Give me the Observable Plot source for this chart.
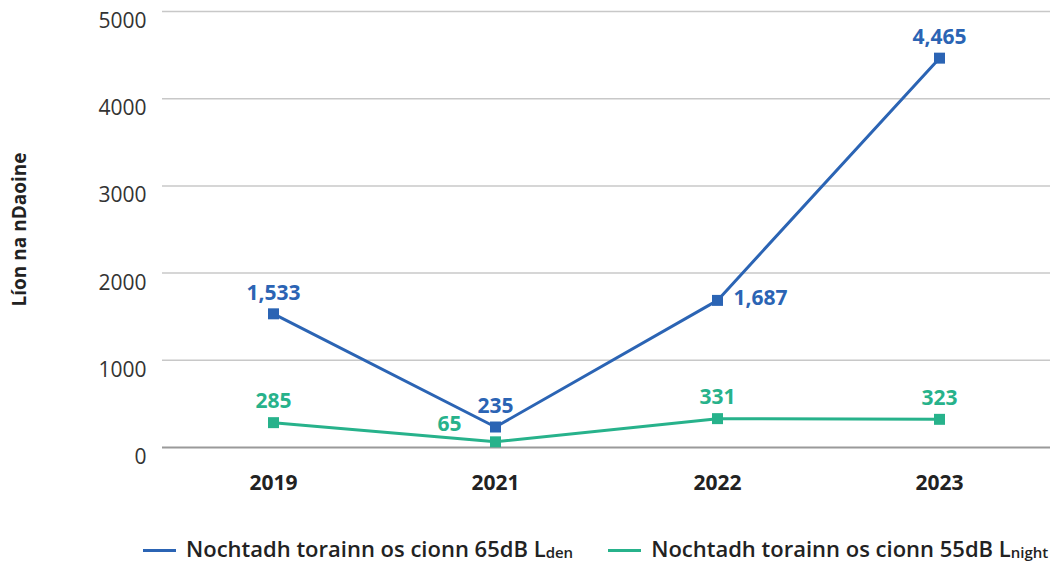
<!DOCTYPE html>
<html><head><meta charset="utf-8">
<script src="https://cdn.jsdelivr.net/npm/d3@7"></script>
<script src="https://cdn.jsdelivr.net/npm/@observablehq/plot@0.6"></script>
<style>
body{margin:0;background:#fff;font-family:"Open Sans",sans-serif;}
#legend{display:flex;justify-content:flex-start;padding-left:143px;gap:35px;font-weight:600;font-size:22px;color:#222;margin-top:25px;line-height:26px;}
.item{display:flex;align-items:center;white-space:nowrap;}
.sw{width:33px;height:3px;margin-right:10px;}
sub{font-size:15px;vertical-align:-1px;}
</style></head><body>
<div id="chart"></div>
<div id="legend"></div>
<script>
const years = ["2019","2021","2022","2023"];
const lden = [1533, 235, 1687, 4465];
const lnight = [285, 65, 331, 323];
const seriesNames = ["Nochtadh torainn os cionn 65dB Lden","Nochtadh torainn os cionn 55dB Lnight"];
const yTicks = [0,1000,2000,3000,4000,5000];
const colors = ["#2b64b4","#27b28b"];

const data = [];
years.forEach((y,i)=>{
  data.push({year:y, value:lden[i], s:0});
  data.push({year:y, value:lnight[i], s:1});
});
const fmt = d3.format(",");
// label placement per point (style only)
const place = (d)=>{
  if (d.s===0 && d.year==="2022") return {dx:16, dy:-2, anchor:"start"};
  if (d.s===1 && d.year==="2021") return {dx:-46, dy:-18, anchor:"middle"};
  return {dx:0, dy:-21, anchor:"middle"};
};
const groups = {};
data.forEach(d=>{const p=place(d); const k=p.dx+"_"+p.dy+"_"+p.anchor; (groups[k]=groups[k]||{p,rows:[]}).rows.push(d);});

const textMarks = Object.values(groups).map(g=>Plot.text(g.rows,{
  x:"year", y:"value", text:d=>fmt(d.value), fill:d=>colors[d.s],
  dx:g.p.dx, dy:g.p.dy, textAnchor:g.p.anchor,
  fontSize:21, fontWeight:700
}));

const chart = Plot.plot({
  width:1059, height:510,
  marginTop:11, marginBottom:63, marginLeft:162, marginRight:9,
  style:{fontFamily:"Open Sans", fontSize:"21px", color:"#333", overflow:"visible"},
  x:{type:"point", domain:years, padding:0.5, tickSize:0, tickPadding:28, label:null},
  y:{domain:[0,5000], ticks:yTicks, tickFormat:d=>String(d), tickSize:0, tickPadding:16,
     label:"Líon na nDaoine", labelAnchor:"center", labelArrow:"none", labelOffset:150},
  marks:[
    Plot.ruleY(yTicks.filter(t=>t>0), {stroke:"#c8c8c8", strokeWidth:1.5}),
    Plot.ruleY([0], {stroke:"#9a9a9a", strokeWidth:2}),
    Plot.line(data, {x:"year", y:"value", z:"s", stroke:d=>colors[d.s], strokeWidth:3}),
    Plot.dot(data, {x:"year", y:"value", symbol:"square", r:6.2, fill:d=>colors[d.s], stroke:"none"}),
    ...textMarks
  ]
});
// style axis text
const svg = d3.select(chart);
svg.selectAll('[aria-label="x-axis tick label"]').attr("font-size",21);
svg.selectAll('[aria-label="x-axis tick label"] text').attr("font-weight",700).attr("fill","#222");
svg.selectAll('[aria-label="y-axis tick label"]').attr("font-size",21);
svg.selectAll('[aria-label="y-axis tick label"] text').attr("fill","#333").attr("dy","0.47em");
svg.selectAll('[aria-label="y-axis label"]').attr("font-size",19);
svg.selectAll('[aria-label="y-axis label"] text').attr("font-weight",700).attr("fill","#222");
document.getElementById("chart").appendChild(chart);

const leg = document.getElementById("legend");
const labelsHtml = ["Nochtadh torainn os cionn 65dB L<sub>den</sub>","Nochtadh torainn os cionn 55dB L<sub>night</sub>"];
seriesNames.forEach((n,i)=>{
  const it=document.createElement("div"); it.className="item";
  it.innerHTML=`<span class="sw" style="background:${colors[i]}"></span><span>${labelsHtml[i]}</span>`;
  leg.appendChild(it);
});
</script>
</body></html>
